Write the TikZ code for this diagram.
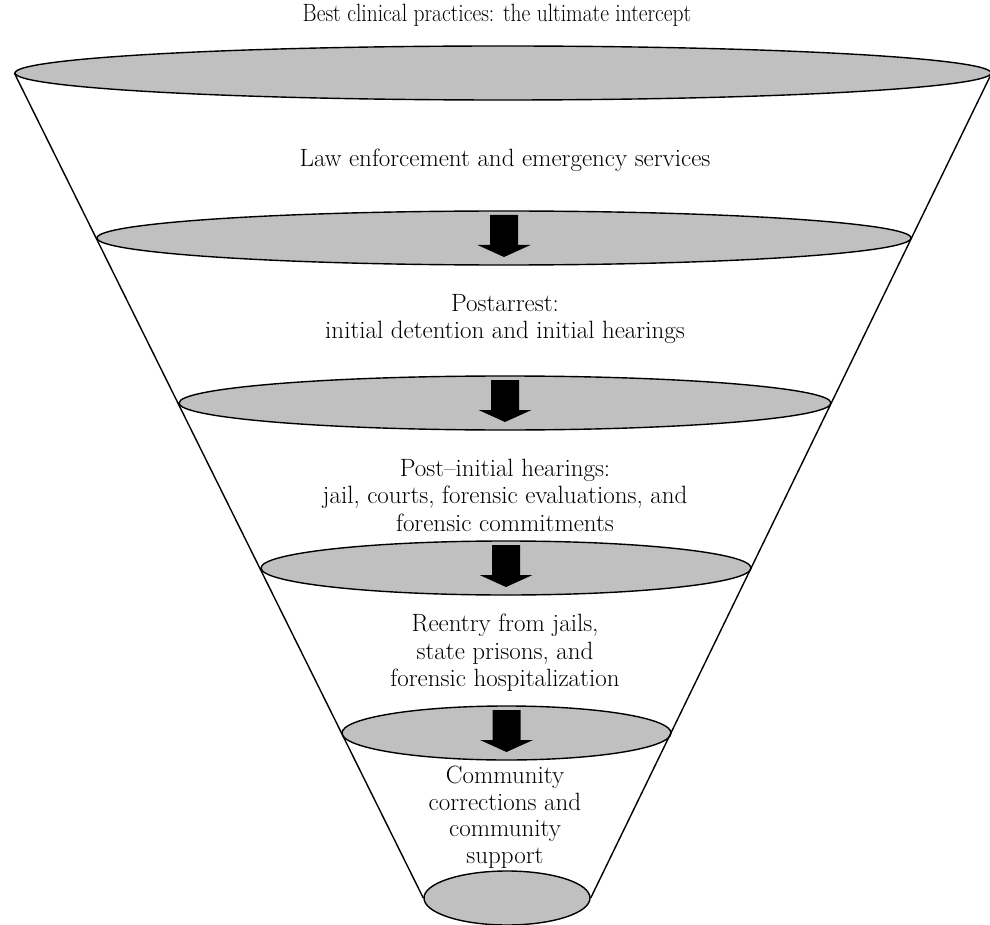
\documentclass[tikz,border=0pt]{standalone}
\usetikzlibrary{shapes.geometric,calc}
\begin{document}
\begin{tikzpicture}[x=1pt,y=-1pt,
  disc/.style={ellipse,draw=black,line width=1.4pt,fill=discgray,inner sep=0pt,minimum height=54pt},
  cone/.style={draw=black,line width=1.4pt},
  lbl/.style={align=center,font=\fontsize{25}{27.5}\selectfont,text=black,inner sep=0pt}]
\definecolor{discgray}{RGB}{192,192,192}
\useasboundingbox (0,0) rectangle (990,925);
\newcommand\blockarrow[1]{\fill[black] ($(#1)+(-14,-23)$) -- ($(#1)+(14,-23)$) -- ($(#1)+(14,7)$) -- ($(#1)+(26.5,7)$) -- ($(#1)+(0,19)$) -- ($(#1)+(-26.5,7)$) -- ($(#1)+(-14,7)$) -- cycle;}
% discs
\node[disc,minimum width=976pt] (e1) at (503,73) {};
\node[disc,minimum width=814pt] (e2) at (504,238) {};
\node[disc,minimum width=652pt] (e3) at (505,403) {};
\node[disc,minimum width=490pt] (e4) at (506,568) {};
\node[disc,minimum width=329pt] (e5) at (506.5,733) {};
\node[disc,minimum width=166pt] (e6) at (507,898) {};
% cone sides
\draw[cone] (e1.west) -- (e6.west);
\draw[cone] (e1.east) -- (e6.east);
% arrows
\blockarrow{e2}
\blockarrow{e3}
\blockarrow{e4}
\blockarrow{e5}
% labels
\node[lbl] (t0) at (497,15) {\scalebox{0.86}[1]{Best clinical practices: the ultimate intercept}};
\node[lbl] (t1) at (505,160) {Law enforcement and emergency services};
\node[lbl] (t2) at (505,319) {Postarrest:\\initial detention and initial hearings};
\node[lbl] (t3) at (505,495) {Post--initial hearings:\\jail, courts, forensic evaluations, and\\forensic commitments};
\node[lbl] (t4) at (505,653) {Reentry from jails,\\state prisons, and\\forensic hospitalization};
\node[lbl,font=\fontsize{25}{26.5}\selectfont] (t5) at (505,817) {Community\\corrections and\\community\\support};
\end{tikzpicture}
\end{document}
